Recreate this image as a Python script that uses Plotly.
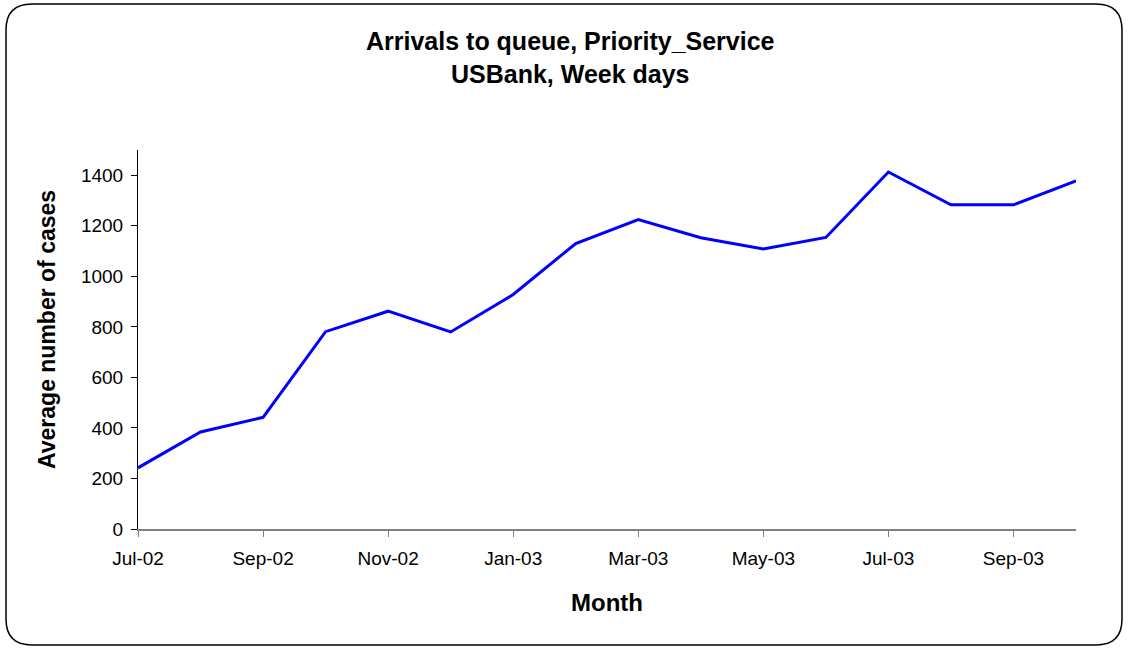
import plotly.graph_objects as go

months = ["Jul-02", "Aug-02", "Sep-02", "Oct-02", "Nov-02", "Dec-02", "Jan-03", "Feb-03",
          "Mar-03", "Apr-03", "May-03", "Jun-03", "Jul-03", "Aug-03", "Sep-03", "Oct-03"]
arrivals = [242, 384, 442, 781, 862, 780, 928, 1130, 1225, 1153, 1108, 1154, 1413, 1283, 1283, 1378]
y_ticks = [0, 200, 400, 600, 800, 1000, 1200, 1400]

W, H = 1128, 649
L, R, T, B = 138, 52, 150, 120
pw, ph = W - L - R, H - T - B

def px(x):
    return (x - L) / pw

def py(y):
    return (H - B - y) / ph

idx = list(range(len(months)))
fig = go.Figure()
fig.add_trace(go.Scatter(x=idx, y=arrivals, mode="lines",
                         line=dict(color="#0000FF", width=3), showlegend=False,
                         hoverinfo="x+y"))

# rounded outer border
x0, x1, y0, y1, r = 6, 1122, 4, 645, 26
path = (f"M {px(x0+r)},{py(y0)} L {px(x1-r)},{py(y0)} "
        f"Q {px(x1)},{py(y0)} {px(x1)},{py(y0+r)} "
        f"L {px(x1)},{py(y1-r)} Q {px(x1)},{py(y1)} {px(x1-r)},{py(y1)} "
        f"L {px(x0+r)},{py(y1)} Q {px(x0)},{py(y1)} {px(x0)},{py(y1-r)} "
        f"L {px(x0)},{py(y0+r)} Q {px(x0)},{py(y0)} {px(x0+r)},{py(y0)} Z")
fig.add_shape(type="path", path=path, xref="paper", yref="paper",
              line=dict(color="black", width=1.5), layer="below")

font_family = "Liberation Sans, Arial, sans-serif"
fig.add_annotation(text="<b>Arrivals to queue, Priority_Service</b><br><b>USBank, Week days</b>",
                   x=px(570), y=py(57), xref="paper", yref="paper", showarrow=False,
                   font=dict(size=25, color="black", family=font_family),
                   xanchor="center", yanchor="middle", align="center")
fig.add_annotation(text="<b>Average number of cases</b>", textangle=-90,
                   x=px(47), y=py(330), xref="paper", yref="paper", showarrow=False,
                   font=dict(size=23, color="black", family=font_family),
                   xanchor="center", yanchor="middle")
fig.add_annotation(text="<b>Month</b>",
                   x=px(607), y=py(602), xref="paper", yref="paper", showarrow=False,
                   font=dict(size=24, color="black", family=font_family),
                   xanchor="center", yanchor="middle")

fig.update_layout(
    width=W, height=H,
    margin=dict(l=L, r=R, t=T, b=B),
    paper_bgcolor="white", plot_bgcolor="white",
    font=dict(family=font_family, color="black"),
    xaxis=dict(range=[0, len(months) - 1], tickvals=idx[::2], ticktext=months[::2],
               showgrid=False, zeroline=False, showline=True, linecolor="#808080", linewidth=2,
               ticks="outside", ticklen=6, tickcolor="#808080", tickwidth=1,
               ticklabelstandoff=5, tickfont=dict(size=19)),
    yaxis=dict(range=[0, 1500], tickvals=y_ticks, showgrid=False, zeroline=False,
               showline=True, linecolor="black", linewidth=1,
               ticks="outside", ticklen=6, tickcolor="black", tickwidth=1,
               ticklabelstandoff=4, tickfont=dict(size=19)),
)

fig.write_html("out.html")
